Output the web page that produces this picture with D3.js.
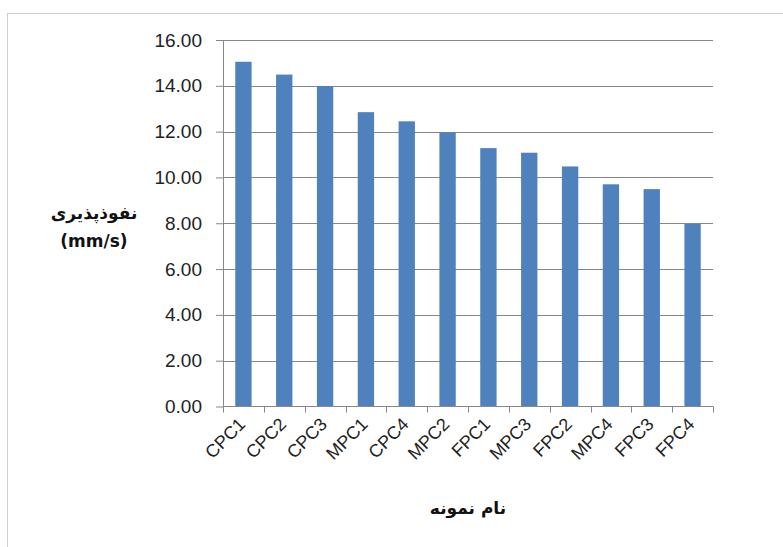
<!DOCTYPE html>
<html lang="fa">
<head>
    <meta charset="UTF-8">
    <title>نفوذپذیری نمونه‌ها</title>
    <script src="https://d3js.org/d3.v7.min.js"></script>
    <style>
        body {
            margin: 0;
            background: #fff;
            font-family: "Liberation Sans", Arial, sans-serif;
        }
        .bar {
            fill: #4f81bd;
        }
        .grid line {
            stroke: #878787;
            stroke-width: 1;
        }
        .axis path, .axis line {
            stroke: #878787;
        }
        .axis text {
            fill: #222;
            font-family: "Liberation Sans", Arial, sans-serif;
        }
        .title {
            font-family: "DejaVu Sans", "Noto Sans", sans-serif;
            font-weight: bold;
            fill: #111;
        }
    </style>
</head>
<body>
    <div id="chart"></div>
    <script>
        // data
        var samples = ["CPC1", "CPC2", "CPC3", "MPC1", "CPC4", "MPC2", "FPC1", "MPC3", "FPC2", "MPC4", "FPC3", "FPC4"];
        var permeability = [15.05, 14.49, 13.99, 12.85, 12.45, 11.97, 11.28, 11.08, 10.48, 9.70, 9.49, 7.97];
        var yTicks = [0, 2, 4, 6, 8, 10, 12, 14, 16];

        var W = 783, H = 547;
        var margin = {top: 40, right: 70, bottom: 140, left: 223};
        var w = 713 - margin.left,
            h = 406.5 - margin.top;

        var root = d3.select("#chart").append("svg")
            .attr("width", W)
            .attr("height", H);

        // outer chart border
        root.append("rect")
            .attr("x", 7.5).attr("y", 13.5)
            .attr("width", W).attr("height", H)
            .attr("fill", "#fff")
            .attr("stroke", "#d0d0d0");

        var svg = root.append("g")
            .attr("transform", "translate(" + margin.left + "," + margin.top + ")");

        var x = d3.scaleBand().domain(samples).range([0, w]).paddingInner(0.6).paddingOuter(0.3);
        var y = d3.scaleLinear().domain([0, 16]).range([h, 0]);

        // horizontal gridlines
        svg.append("g")
            .attr("class", "grid")
            .selectAll("line")
            .data(yTicks.slice(1))
            .enter().append("line")
            .attr("x1", 0).attr("x2", w)
            .attr("y1", function(d) { return Math.round(y(d)) + 0.5; })
            .attr("y2", function(d) { return Math.round(y(d)) + 0.5; });

        // bars
        svg.selectAll(".bar")
            .data(permeability)
            .enter().append("rect")
            .attr("class", "bar")
            .attr("x", function(d, i) { return x(samples[i]); })
            .attr("width", x.bandwidth())
            .attr("y", function(d) { return y(d); })
            .attr("height", function(d) { return h - y(d); });

        // y axis
        var yAxis = d3.axisLeft(y)
            .tickValues(yTicks)
            .tickFormat(d3.format(".2f"))
            .tickSize(7)
            .tickSizeOuter(0)
            .tickPadding(14);
        var gy = svg.append("g").attr("class", "axis").call(yAxis);
        gy.selectAll("text").style("font-size", "19px");

        // x axis: ticks between the categories
        var step = w / samples.length;
        var gx = svg.append("g")
            .attr("class", "axis")
            .attr("transform", "translate(0," + h + ")");
        gx.append("line").attr("x1", 0).attr("x2", w);
        gx.selectAll(".tk")
            .data(d3.range(samples.length + 1))
            .enter().append("line")
            .attr("class", "tk")
            .attr("x1", function(i) { return Math.round(i * step) + 0.5; })
            .attr("x2", function(i) { return Math.round(i * step) + 0.5; })
            .attr("y1", 0).attr("y2", 6);
        gx.selectAll("text")
            .data(samples)
            .enter().append("text")
            .attr("text-anchor", "end")
            .attr("transform", function(d) {
                return "translate(" + (x(d) + x.bandwidth() / 2 + 3) + ",19) rotate(-45)";
            })
            .style("font-size", "18px")
            .text(function(d) { return d; });

        // axis titles
        root.append("text")
            .attr("class", "title")
            .attr("x", margin.left + w / 2)
            .attr("y", 514)
            .attr("text-anchor", "middle")
            .style("font-size", "17px")
            .text("نام نمونه");

        var yt = root.append("text")
            .attr("class", "title")
            .attr("text-anchor", "middle")
            .style("font-size", "17px");
        yt.append("tspan").attr("x", 94).attr("y", 219).text("نفوذپذیری");
        yt.append("tspan").attr("x", 94).attr("y", 247).attr("direction", "ltr").text("(mm/s)");
    </script>
</body>
</html>
